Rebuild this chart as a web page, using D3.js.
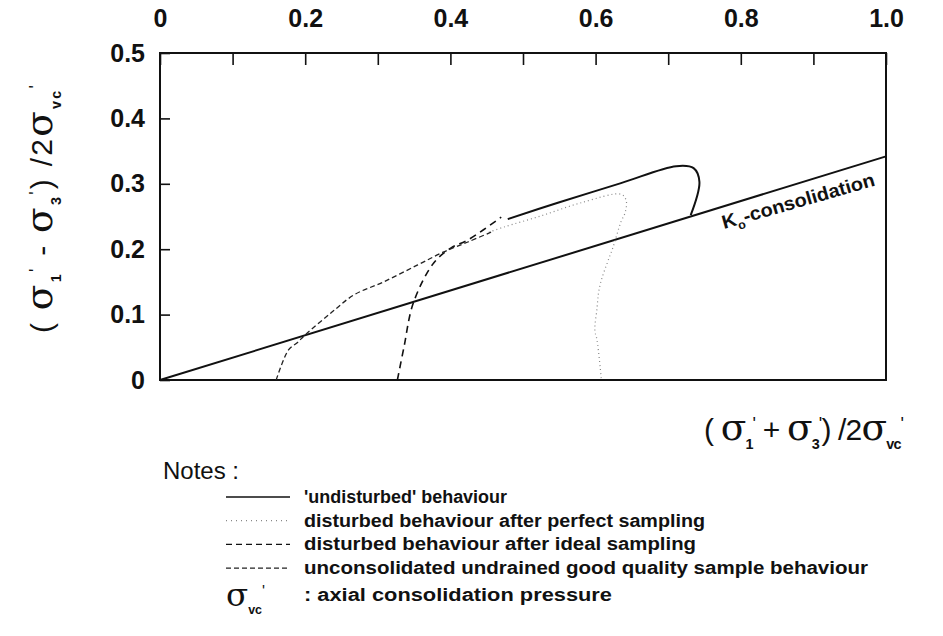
<!DOCTYPE html>
<html>
<head>
<meta charset="utf-8">
<script src="https://cdn.jsdelivr.net/npm/d3@7/dist/d3.min.js"></script>
<style>
  body { margin: 0; background: #fff; }
  text { font-family: "Liberation Sans", Arial, sans-serif; fill: #111; }
  .sig { font-family: "DejaVu Serif", "Liberation Serif", serif; }
</style>
</head>
<body>
<div id="chart"></div>
<script>
// tick values and labels
const xTicks = [0, 0.1, 0.2, 0.3, 0.4, 0.5, 0.6, 0.7, 0.8, 0.9, 1.0];
const xTickLabels = ["0", "", "0.2", "", "0.4", "", "0.6", "", "0.8", "", "1.0"];
const yTicks = [0, 0.1, 0.2, 0.3, 0.4, 0.5];
const yTickLabels = ["0", "0.1", "0.2", "0.3", "0.4", "0.5"];

// K0 consolidation line
const k0P = [0, 1.0];
const k0Q = [0, 0.342];

// 'undisturbed' behaviour
const undisturbedP = [0.479, 0.548, 0.635, 0.711, 0.735, 0.743, 0.731];
const undisturbedQ = [0.246, 0.271, 0.301, 0.327, 0.324, 0.303, 0.252];

// disturbed behaviour after perfect sampling
const perfectP = [0.453, 0.474, 0.525, 0.580, 0.635, 0.642, 0.641, 0.635, 0.624, 0.616, 0.608, 0.604, 0.602, 0.599, 0.602, 0.608];
const perfectQ = [0.226, 0.234, 0.251, 0.271, 0.284, 0.275, 0.257, 0.242, 0.203, 0.179, 0.153, 0.133, 0.110, 0.076, 0.061, 0.0];

// disturbed behaviour after ideal sampling
const idealP = [0.327, 0.336, 0.349, 0.377, 0.401, 0.424, 0.470];
const idealQ = [0, 0.050, 0.118, 0.179, 0.202, 0.214, 0.249];

// unconsolidated undrained good quality sample
const uuP = [0.160, 0.177, 0.189, 0.200, 0.235, 0.267, 0.308, 0.355, 0.391, 0.424, 0.456];
const uuQ = [0, 0.046, 0.057, 0.069, 0.102, 0.130, 0.150, 0.176, 0.196, 0.211, 0.226];

const legendLabels = [
  "'undisturbed' behaviour",
  "disturbed behaviour after perfect sampling",
  "disturbed behaviour after ideal sampling",
  "unconsolidated undrained good quality sample behaviour"
];

const W = 943, H = 636;
const svg = d3.select("#chart").append("svg")
    .attr("width", W)
    .attr("height", H);

const x = d3.scaleLinear().domain([0, 1]).range([160, 886]);
const y = d3.scaleLinear().domain([0, 0.5]).range([380, 53]);

const zip = (a, b) => a.map((v, i) => [v, b[i]]);

// axes (ticks pointing inwards)
const topAxis = svg.append("g")
    .attr("transform", `translate(0,${y(0.5)})`)
    .call(d3.axisTop(x).tickValues(xTicks).tickSize(-12).tickPadding(26)
        .tickFormat((d, i) => xTickLabels[i]));
topAxis.select(".domain").remove();
topAxis.selectAll("line").attr("stroke", "#111").attr("stroke-width", 1.6);
topAxis.selectAll("text").attr("font-size", 25).attr("font-weight", "bold")
    .attr("font-family", "Liberation Sans, Arial, sans-serif").attr("fill", "#111");

const leftAxis = svg.append("g")
    .attr("transform", `translate(${x(0)},0)`)
    .call(d3.axisLeft(y).tickValues(yTicks).tickSize(-10).tickPadding(15)
        .tickFormat((d, i) => yTickLabels[i]));
leftAxis.select(".domain").remove();
leftAxis.selectAll("line").attr("stroke", "#111").attr("stroke-width", 1.6);
leftAxis.selectAll("text").attr("font-size", 25).attr("font-weight", "bold")
    .attr("font-family", "Liberation Sans, Arial, sans-serif").attr("fill", "#111");

// frame
svg.append("rect")
    .attr("x", x(0)).attr("y", y(0.5))
    .attr("width", x(1) - x(0)).attr("height", y(0) - y(0.5))
    .attr("fill", "none").attr("stroke", "#111").attr("stroke-width", 2);

const line = d3.line().x(d => x(d[0])).y(d => y(d[1])).curve(d3.curveCatmullRom.alpha(0.5));
const straight = d3.line().x(d => x(d[0])).y(d => y(d[1]));

const styles = [
  {dash: null, color: "#111", width: 2},
  {dash: "1,3", color: "#888", width: 1.2},
  {dash: "7,5", color: "#111", width: 1.6},
  {dash: "5,3", color: "#222", width: 1.3}
];

svg.append("path").attr("d", straight(zip(k0P, k0Q)))
    .attr("fill", "none").attr("stroke", "#111").attr("stroke-width", 2);

const curves = [zip(undisturbedP, undisturbedQ), zip(perfectP, perfectQ), zip(idealP, idealQ), zip(uuP, uuQ)];
curves.forEach((c, i) => {
  svg.append("path").attr("d", line(c))
      .attr("fill", "none")
      .attr("stroke", styles[i].color)
      .attr("stroke-width", styles[i].width)
      .attr("stroke-dasharray", styles[i].dash);
});

// K0 label just under the line
const k0Label = svg.append("text")
    .attr("transform", "translate(724,229) rotate(-16)")
    .attr("font-size", 19).attr("font-weight", "bold")
    .attr("textLength", 158).attr("lengthAdjust", "spacingAndGlyphs");
k0Label.append("tspan").text("K");
k0Label.append("tspan").attr("font-size", 12).attr("dy", 5).text("o");
k0Label.append("tspan").attr("dy", -5).text("-consolidation");

// axis titles with sigma glyphs
function sigmaLabel(g, parts, size) {
  const t = g.append("text").attr("font-size", size);
  parts.forEach(p => {
    const s = t.append("tspan").text(p.t);
    if (p.sig) s.attr("class", "sig").attr("font-size", size * 1.25);
    if (p.sub) s.attr("font-size", size * 0.48).attr("font-weight", "bold").attr("dy", size * 0.3);
    if (p.sup) s.attr("font-size", size * 0.6).attr("dy", -size * 0.65);
    if (p.back) s.attr("dy", p.back);
  });
  return t;
}

const xTitle = svg.append("g").attr("transform", "translate(704,440)");
sigmaLabel(xTitle, [
  {t: "( "}, {t: "σ", sig: true}, {t: "1", sub: true}, {t: "'", sup: true},
  {t: " + ", back: 30 * 0.35}, {t: "σ", sig: true}, {t: "3", sub: true}, {t: "'", sup: true},
  {t: ") /2", back: 30 * 0.35}, {t: "σ", sig: true}, {t: "vc", sub: true}, {t: "'", sup: true}
], 30).attr("textLength", 200).attr("lengthAdjust", "spacing");

const yTitle = svg.append("g").attr("transform", "translate(52,333) rotate(-90)");
sigmaLabel(yTitle, [
  {t: "( "}, {t: "σ", sig: true}, {t: "1", sub: true}, {t: "'", sup: true},
  {t: "   -   ", back: 30 * 0.35}, {t: "σ", sig: true}, {t: "3", sub: true}, {t: "'", sup: true},
  {t: ") /2", back: 30 * 0.35}, {t: "σ", sig: true}, {t: "vc", sub: true}, {t: "'", sup: true}
], 30).attr("textLength", 248).attr("lengthAdjust", "spacing");

// notes / legend
svg.append("text").attr("x", 163).attr("y", 479).attr("font-size", 24).text("Notes :");

const legendWidths = [203, 401, 392, 564];
legendLabels.forEach((lab, i) => {
  const yy = 497 + i * 23.7;
  svg.append("line").attr("x1", 226).attr("x2", 290).attr("y1", yy).attr("y2", yy)
      .attr("stroke", styles[i].color)
      .attr("stroke-width", i === 0 ? 1.5 : 1.2)
      .attr("stroke-dasharray", styles[i].dash ? (i === 2 ? "6,4" : i === 3 ? "5,3" : "1,4") : null);
  svg.append("text").attr("x", 304).attr("y", yy + 6)
      .attr("font-size", 18).attr("font-weight", "bold")
      .attr("textLength", legendWidths[i]).attr("lengthAdjust", "spacingAndGlyphs")
      .text(lab);
});

const axial = svg.append("g").attr("transform", "translate(226,606)");
sigmaLabel(axial, [{t: "σ", sig: true}, {t: "vc", sub: true}, {t: "'", sup: true}], 26);
svg.append("text").attr("x", 304).attr("y", 601).attr("font-size", 18).attr("font-weight", "bold")
    .attr("textLength", 308).attr("lengthAdjust", "spacingAndGlyphs")
    .text(": axial consolidation pressure");
</script>
</body>
</html>
